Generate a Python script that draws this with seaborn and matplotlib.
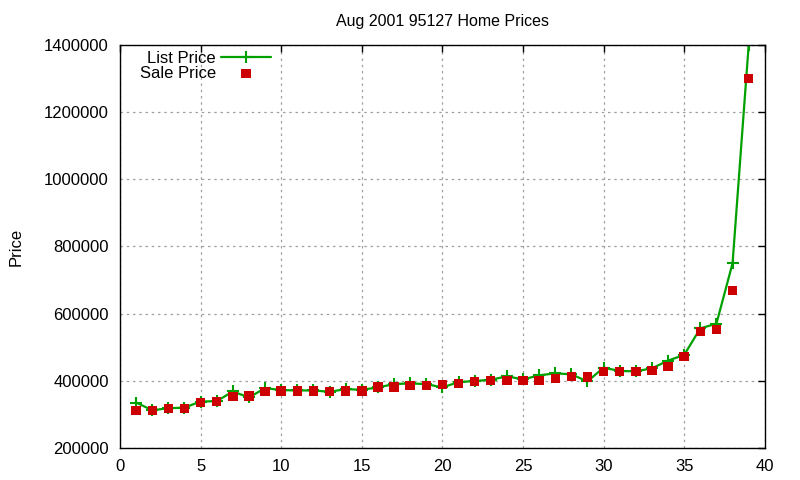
import matplotlib
matplotlib.use("Agg")
import matplotlib.pyplot as plt
import seaborn as sns
import pandas as pd

# datos
n_casa = list(range(1, 40))
precio_lista = [335000, 312000, 318000, 320000, 338000, 339000, 368000, 350000, 378000, 372000,
                371000, 371000, 367000, 375000, 373000, 380000, 390000, 392000, 390000, 380000,
                396000, 399000, 403000, 413000, 404000, 416000, 422000, 419000, 398000, 439000,
                429000, 428000, 437000, 460000, 477000, 556000, 570000, 750000, 1400000]
precio_venta = [312000, 312000, 317000, 318000, 335000, 338000, 353000, 354000, 368000, 369000,
                369000, 369000, 368000, 369000, 369000, 381000, 381000, 385000, 385000, 388000,
                392000, 398000, 401000, 401000, 401000, 401000, 407000, 413000, 411000, 428000,
                428000, 428000, 431000, 443000, 472000, 546000, 552000, 668000, 1300000]

datos = pd.DataFrame({"n": n_casa, "lista": precio_lista, "venta": precio_venta})

sns.set_style("white", {"text.color": "black", "axes.labelcolor": "black",
                        "xtick.color": "black", "ytick.color": "black"})
plt.rcParams["font.family"] = ["Liberation Sans", "DejaVu Sans"]
plt.rcParams["font.size"] = 12

verde = "#00a000"
rojo = "#cc0000"

figura, ejes = plt.subplots(figsize=(8, 4.8), dpi=100)
figura.subplots_adjust(left=0.15, right=0.956, top=0.906, bottom=0.067)

sns.lineplot(data=datos, x="n", y="lista", color=verde, linewidth=1.6,
             marker="+", markersize=8, markeredgewidth=1.5,
             markeredgecolor=verde, markerfacecolor=verde,
             label="List Price", ax=ejes)
sns.scatterplot(data=datos, x="n", y="venta", color=rojo, marker="s",
                s=46, edgecolor="none", label="Sale Price", zorder=3, ax=ejes)

ejes.set_xlim(0, 40)
ejes.set_ylim(200000, 1400000)
ejes.set_xticks(range(0, 41, 5))
ejes.set_yticks(range(200000, 1400001, 200000))
ejes.ticklabel_format(style="plain", axis="y")
ejes.grid(True, linestyle=(0, (2, 3)), color="#a0a0a0", linewidth=0.9)
ejes.tick_params(direction="in", top=True, right=True, length=5, width=1,
                 labelsize=12, colors="black")
ejes.tick_params(axis="y", pad=8)
ejes.tick_params(axis="x", pad=8)
for lado in ejes.spines.values():
    lado.set_color("black")
    lado.set_linewidth(1)

ejes.set_title("Aug 2001 95127 Home Prices", fontsize=11.5, pad=14, color="black")
ejes.set_xlabel("")
ejes.set_ylabel("Price", fontsize=12, labelpad=15, color="black")

ejes.legend(loc="upper left", bbox_to_anchor=(0.015, 1.01), frameon=False,
            markerfirst=False, fontsize=12, handlelength=3.0,
            labelspacing=0.0, borderaxespad=0.2, handletextpad=0.3,
            labelcolor="black")

figura.savefig("out.png", dpi=100)
